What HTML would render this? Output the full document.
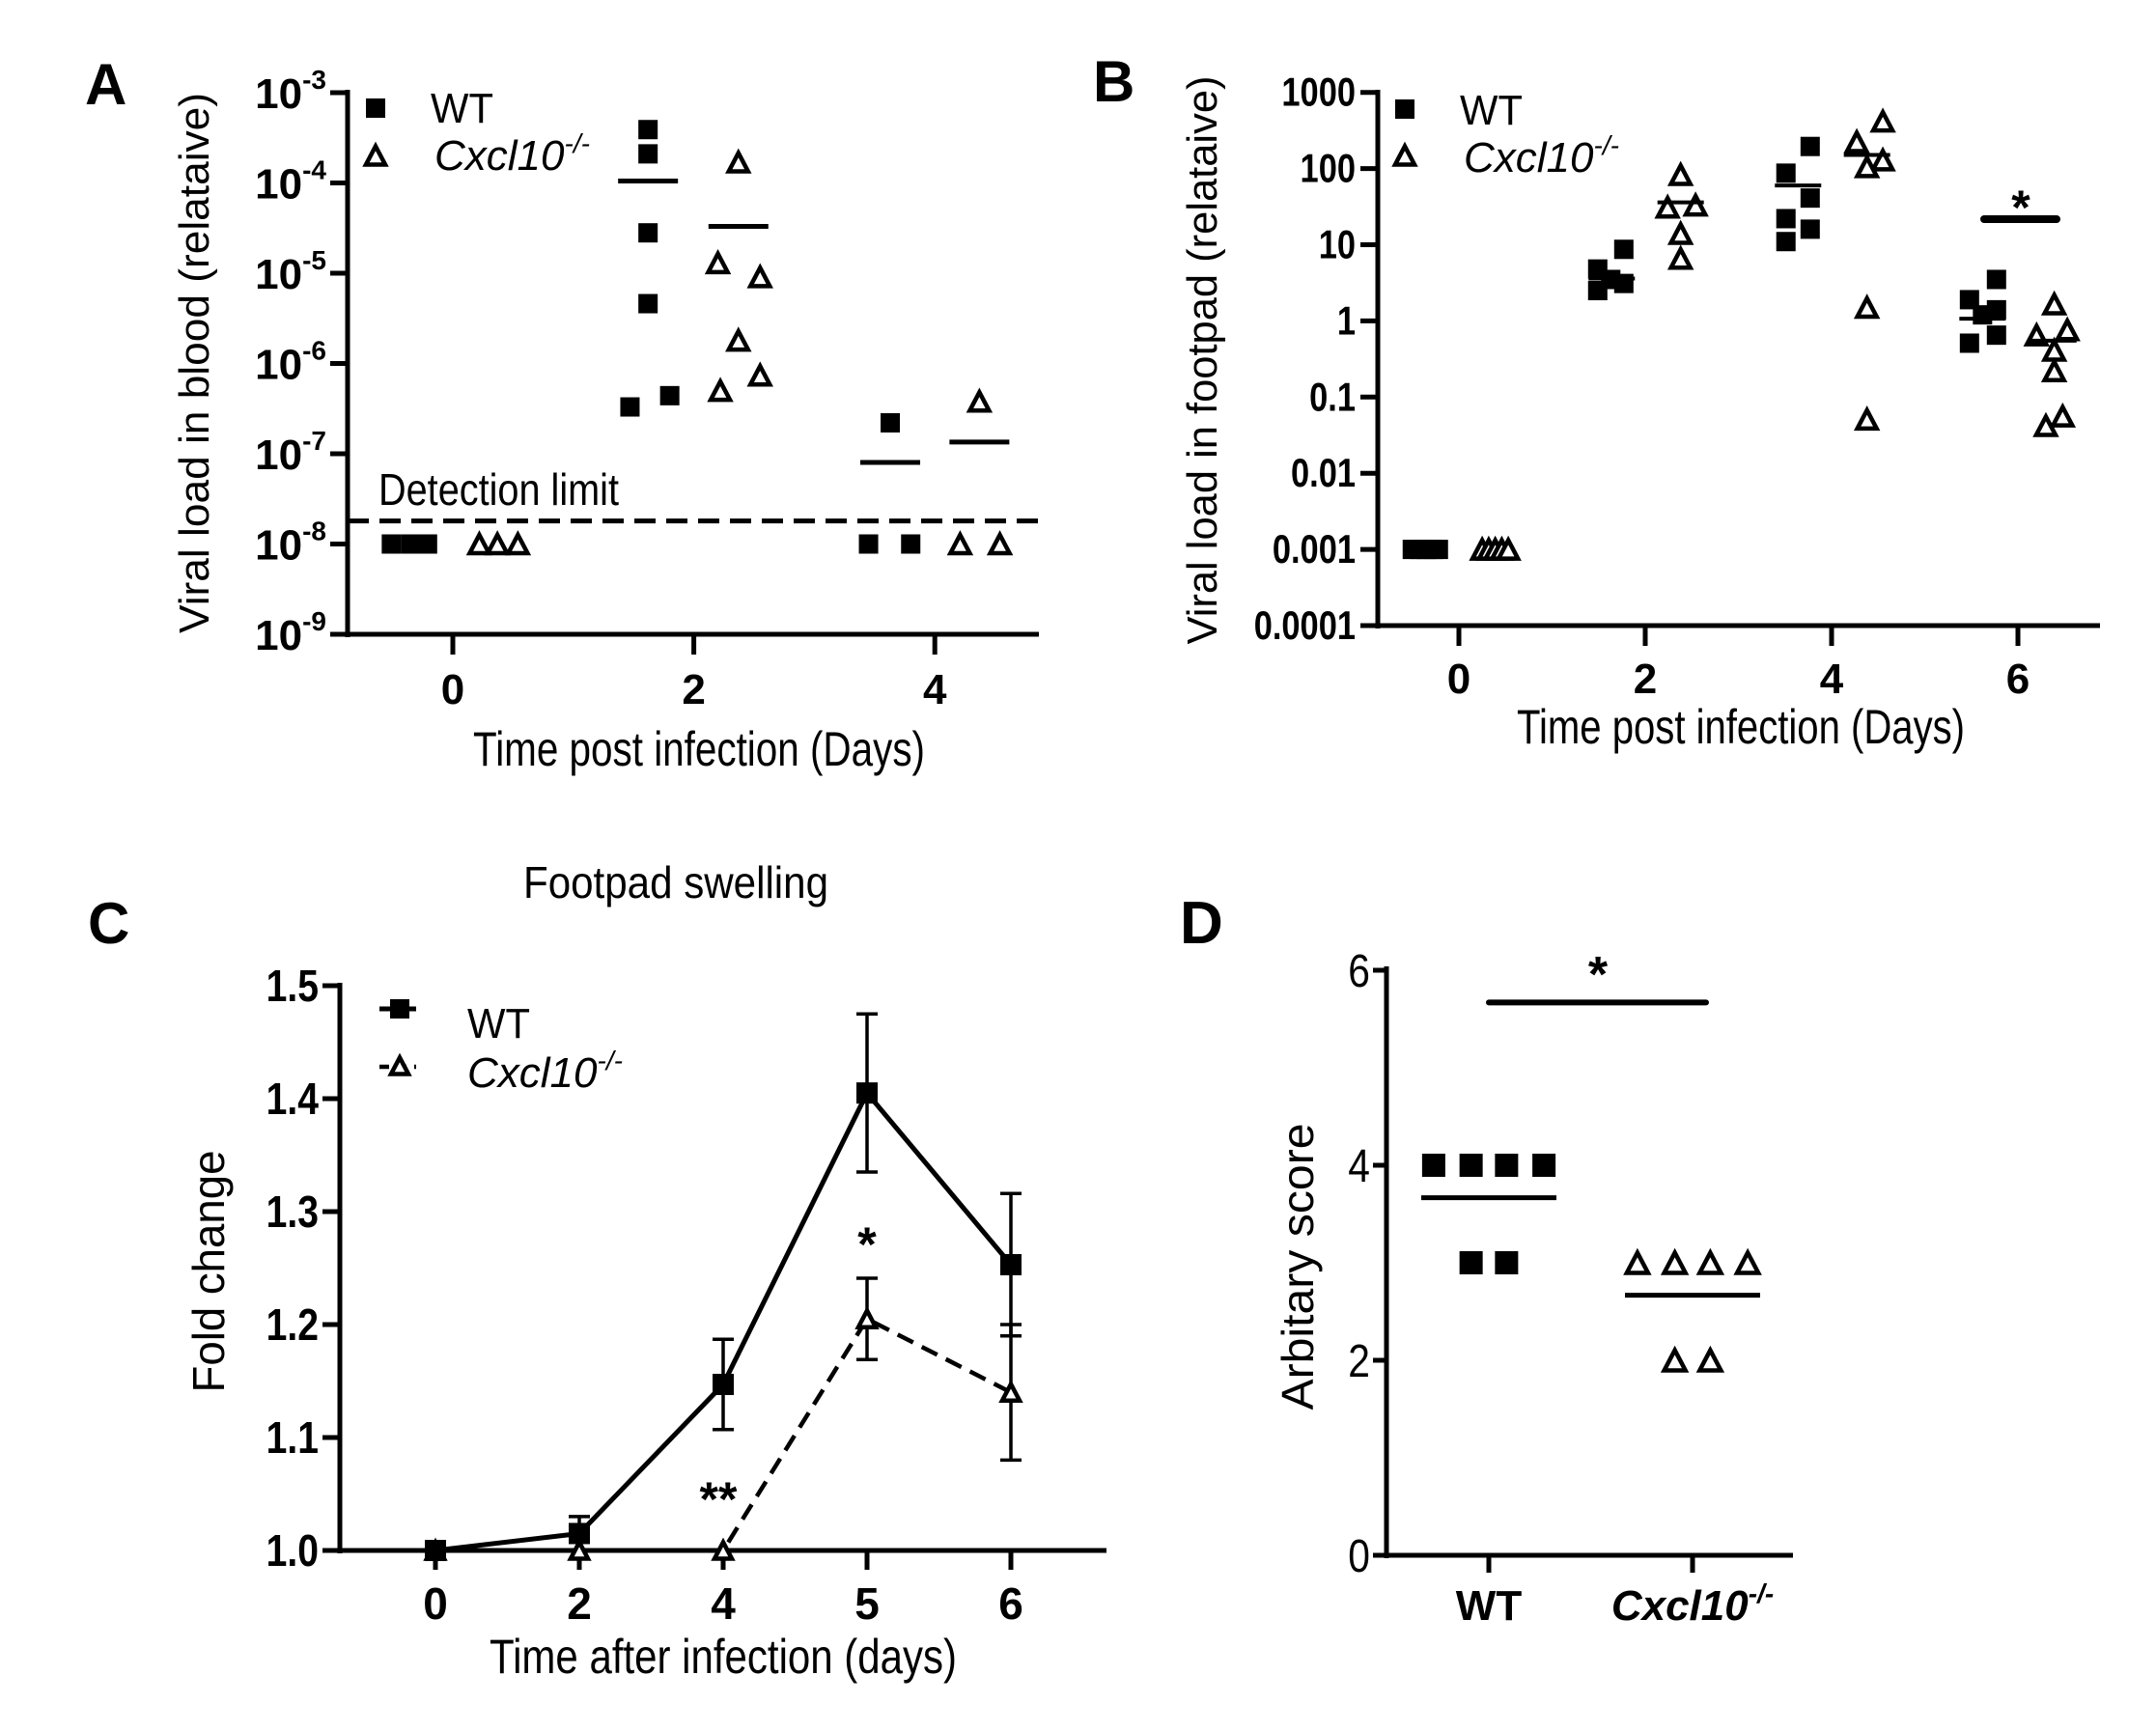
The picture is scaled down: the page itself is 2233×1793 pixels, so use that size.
<!DOCTYPE html>
<html><head><meta charset="utf-8"><style>
html,body{margin:0;padding:0;background:#fff}
svg{display:block}
text{font-family:"Liberation Sans",sans-serif;fill:#000}
</style></head><body>
<svg id="fig" xmlns="http://www.w3.org/2000/svg" width="2233" height="1793" viewBox="0 0 2233 1793">
<rect x="0" y="0" width="2233" height="1793" fill="#fff"/>
<!-- Panel letters -->
<text x="88" y="108" font-size="60" font-weight="bold">A</text>
<text x="1132" y="105" font-size="60" font-weight="bold">B</text>
<text x="91" y="977" font-size="60" font-weight="bold">C</text>
<text x="1222" y="977" font-size="62" font-weight="bold">D</text>
<!-- Titles -->
<text transform="translate(216,376) rotate(-90)" text-anchor="middle" font-size="44" textLength="560" lengthAdjust="spacingAndGlyphs">Viral load in blood (relataive)</text>
<text x="724" y="793" text-anchor="middle" font-size="50" textLength="468" lengthAdjust="spacingAndGlyphs">Time post infection (Days)</text>
<text x="392" y="523" font-size="46" textLength="249" lengthAdjust="spacingAndGlyphs">Detection limit</text>
<text transform="translate(1260,373) rotate(-90)" text-anchor="middle" font-size="44" textLength="589" lengthAdjust="spacingAndGlyphs">Viral load in footpad (relataive)</text>
<text x="1803" y="770" text-anchor="middle" font-size="50" textLength="464" lengthAdjust="spacingAndGlyphs">Time post infection (Days)</text>
<text x="700" y="930" text-anchor="middle" font-size="46" textLength="316" lengthAdjust="spacingAndGlyphs">Footpad swelling</text>
<text transform="translate(232,1317) rotate(-90)" text-anchor="middle" font-size="46" textLength="251" lengthAdjust="spacingAndGlyphs">Fold change</text>
<text x="749" y="1733" text-anchor="middle" font-size="50" textLength="484" lengthAdjust="spacingAndGlyphs">Time after infection (days)</text>
<text transform="translate(1360,1312) rotate(-90)" text-anchor="middle" font-size="46" textLength="297" lengthAdjust="spacingAndGlyphs">Arbitary score</text>
<!-- Legends -->
<text x="446" y="127" font-size="44" textLength="65" lengthAdjust="spacingAndGlyphs">WT</text>
<text x="450" y="176" font-size="44" font-style="italic">Cxcl10<tspan font-size="28" dy="-18">-/-</tspan></text>
<text x="1512" y="129" font-size="44" textLength="65" lengthAdjust="spacingAndGlyphs">WT</text>
<text x="1516" y="178" font-size="44" font-style="italic">Cxcl10<tspan font-size="28" dy="-18">-/-</tspan></text>
<text x="484" y="1075" font-size="44" textLength="65" lengthAdjust="spacingAndGlyphs">WT</text>
<text x="484" y="1126" font-size="44" font-style="italic">Cxcl10<tspan font-size="28" dy="-18">-/-</tspan></text>
</svg>
<script>
// ---------- Panel A data (blood viral load) ----------
const aTicksExp = [-3,-4,-5,-6,-7,-8,-9];
const aXTicks = [0,2,4];
const aWtX = [-0.51,-0.35,-0.21, 1.62,1.62,1.62,1.62,1.47,1.80, 3.63,3.45,3.80];
const aWtY = [1e-8,1e-8,1e-8, 3.9e-4,2.1e-4,2.8e-5,4.6e-6,3.3e-7,4.4e-7, 2.2e-7,1e-8,1e-8];
const aKoX = [0.22,0.37,0.54, 2.37,2.20,2.55,2.37,2.55,2.22, 4.37,4.21,4.54];
const aKoY = [1e-8,1e-8,1e-8, 1.7e-4,1.3e-5,9.1e-6,1.8e-6,7.4e-7,5e-7, 3.8e-7,1e-8,1e-8];
const aMeanX = [1.62,2.37,3.63,4.37];
const aMeanY = [1.05e-4,3.3e-5,8e-8,1.35e-7];
const aDetection = 1.8e-8;
// ---------- Panel B data (footpad viral load) ----------
const bTicks = [1000,100,10,1,0.1,0.01,0.001,0.0001];
const bTickLabels = ["1000","100","10","1","0.1","0.01","0.001","0.0001"];
const bXTicks = [0,2,4,6];
const bWtX = [-0.50,-0.42,-0.35,-0.28,-0.22, 1.49,1.49,1.77,1.77,1.63, 3.51,3.77,3.77,3.51,3.77,3.51, 5.48,5.77,5.77,5.48,5.77,5.62];
const bWtY = [0.001,0.001,0.001,0.001,0.001, 4.8,2.5,8.7,3.1,3.5, 87,195,41,22,16,11, 1.9,3.5,1.4,0.51,0.65,1.2];
const bKoX = [0.25,0.32,0.39,0.46,0.53, 2.38,2.24,2.54,2.38,2.38, 4.27,4.55,4.55,4.38,4.38,4.38, 6.39,6.20,6.53,6.39,6.39,6.30,6.48];
const bKoY = [0.001,0.001,0.001,0.001,0.001, 83,31,33,14,6.6, 224,417,129,105,1.5,0.051, 1.66,0.65,0.76,0.41,0.22,0.042,0.056];
const bMeanX = [1.64,2.38,3.64,4.38,5.62,6.38];
const bMeanY = [3.6,36,60,151,1.07,0.55];
// ---------- Panel C data (footpad swelling) ----------
const cCats = ["0","2","4","5","6"];
const cYTicks = [1.0,1.1,1.2,1.3,1.4,1.5];
const cWt = [1.0,1.015,1.147,1.405,1.253];
const cWtErr = [0.0,0.015,0.04,0.07,0.063];
const cKo = [1.0,1.0,1.0,1.205,1.14];
const cKoErr = [0.0,0.0,0.0,0.036,0.06];
// ---------- Panel D data (arbitrary score) ----------
const dCats = ["WT","Cxcl10"];
const dYTicks = [0,2,4,6];
const dWtX = [-0.28,-0.09,0.09,0.28,-0.09,0.09];
const dWtY = [4,4,4,4,3,3];
const dKoX = [-0.28,-0.09,0.09,0.28,-0.09,0.09];
const dKoY = [3,3,3,3,2,2];
const dMeans = [3.667,2.667];

const NS="http://www.w3.org/2000/svg";
const svg=document.getElementById('fig');
function mk(tag,attrs){const e=document.createElementNS(NS,tag);for(const k in attrs)e.setAttribute(k,attrs[k]);svg.appendChild(e);return e;}
function line(x1,y1,x2,y2,w,dash){const a={x1:x1,y1:y1,x2:x2,y2:y2,stroke:'#000','stroke-width':w};if(dash)a['stroke-dasharray']=dash;return mk('line',a);}
function sq(cx,cy,s){return mk('rect',{x:cx-s/2,y:cy-s/2,width:s,height:s,fill:'#000'});}
function tri(cx,cy,s){const h=s*0.95;return mk('polygon',{points:(cx)+','+(cy-h/2)+' '+(cx+s/2)+','+(cy+h/2)+' '+(cx-s/2)+','+(cy+h/2),fill:'#fff',stroke:'#000','stroke-width':4.5,'stroke-linejoin':'miter'});}
function txt(x,y,s,size,anchor,weight){const t=mk('text',{x:x,y:y,'font-size':size,'text-anchor':anchor||'middle','font-weight':weight||'normal'});t.textContent=s;return t;}

// ===== Panel A =====
const A={x0:360,y0:657,dec:93.5,ox:469,pd:124.8,right:1076};
const ay=v=>A.y0-(Math.log10(v)+9)*A.dec;
const ax=d=>A.ox+d*A.pd;
let e;
e=line(A.x0,96-3,A.x0,A.y0+3,5);  
e=line(A.x0-2,A.y0,A.right,A.y0,5);  
aTicksExp.forEach(p=>{const y=ay(Math.pow(10,p));
 e=line(A.x0-18,y,A.x0,y,5);  
 const t=mk('text',{x:338,y:y+16,'font-size':44,'font-weight':'bold','text-anchor':'end'});
 
 
 t.innerHTML='10<tspan font-size="28" dy="-20">'+p+'</tspan>';});
aXTicks.forEach(d=>{e=line(ax(d),A.y0,ax(d),A.y0+21,5);  
 e=txt(ax(d),729,String(d),44,'middle','bold');  });
e=line(A.x0,ay(aDetection),1080,ay(aDetection),5,'22 11');  
aWtX.forEach((d,i)=>{e=sq(ax(d),ay(aWtY[i]),20);  });
aKoX.forEach((d,i)=>{e=tri(ax(d),ay(aKoY[i]),20);  });
aMeanX.forEach((d,i)=>{e=line(ax(d)-31,ay(aMeanY[i]),ax(d)+31,ay(aMeanY[i]),5);  });
e=sq(389,112,20);  
e=tri(389,161,20);  

// ===== Panel B =====
const B={x0:1427,top:96,dec:78.9,y0:648,ox:1511,pd:96.5,right:2175};
const by=v=>B.y0-(Math.log10(v)+4)*B.dec;
const bx=d=>B.ox+d*B.pd;
e=line(B.x0,B.top-3,B.x0,B.y0+3,5);  
e=line(B.x0-2,B.y0,B.right,B.y0,5);  
bTicks.forEach((v,i)=>{const y=by(v);
 e=line(B.x0-18,y,B.x0,y,5);  
 e=mk('g',{transform:'translate(1404,'+(y+14)+') scale(0.82,1)'});
 
 
 const t=document.createElementNS(NS,'text');t.setAttribute('font-size',42);t.setAttribute('font-weight','bold');t.setAttribute('text-anchor','end');t.textContent=bTickLabels[i];e.appendChild(t);});
bXTicks.forEach(d=>{e=line(bx(d),B.y0,bx(d),B.y0+21,5);  
 e=txt(bx(d),718,String(d),44,'middle','bold');  });
bWtX.forEach((d,i)=>{e=sq(bx(d),by(bWtY[i]),20);  });
bKoX.forEach((d,i)=>{e=tri(bx(d),by(bKoY[i]),20);  });
bMeanX.forEach((d,i)=>{e=line(bx(d)-24,by(bMeanY[i]),bx(d)+24,by(bMeanY[i]),4);  });
e=mk('line',{x1:2055,y1:227,x2:2130,y2:227,stroke:'#000','stroke-width':8,'stroke-linecap':'round'});  
e=txt(2093,232,'*',50,'middle','bold');  
e=sq(1455,113,20);  
e=tri(1455,161,20);  

// ===== Panel C =====
const C={x0:352,y0:1606,per:1170,cx0:451,step:149,right:1146};
const cy=v=>C.y0-(v-1.0)*C.per;
const cx=i=>C.cx0+i*C.step;
e=line(C.x0,1018,C.x0,C.y0+3,5);  
e=line(C.x0-2,C.y0,C.right,C.y0,5);  
cYTicks.forEach(v=>{const y=cy(v);
 e=line(C.x0-18,y,C.x0,y,5);  
 e=mk('g',{transform:'translate(330,'+(y+16)+') scale(0.85,1)'});
 
 
 const t=document.createElementNS(NS,'text');t.setAttribute('font-size',46);t.setAttribute('font-weight','bold');t.setAttribute('text-anchor','end');t.textContent=v.toFixed(1);e.appendChild(t);});
cCats.forEach((c,i)=>{e=line(cx(i),C.y0,cx(i),C.y0+20,5);  
 e=txt(cx(i),1677,c,46,'middle','bold');  });
let dW='',dK='';
cWt.forEach((v,i)=>{dW+=(i?'L':'M')+cx(i)+','+cy(v);});
cKo.forEach((v,i)=>{dK+=(i?'L':'M')+cx(i)+','+cy(v);});
e=mk('path',{d:dK,fill:'none',stroke:'#000','stroke-width':4.5,'stroke-dasharray':'18 10'});  
e=mk('path',{d:dW,fill:'none',stroke:'#000','stroke-width':5});  
function ebar(i,v,err,nm){if(err<=0)return;const x=cx(i);const t=cy(v+err),b=cy(v-err);
 e=line(x,t,x,b,3.5);  
 e=line(x-11,t,x+11,t,3.5);  
 e=line(x-11,b,x+11,b,3.5);  }
cWt.forEach((v,i)=>ebar(i,v,cWtErr[i],'c-wt-error-bar'));
cKo.forEach((v,i)=>ebar(i,v,cKoErr[i],'c-cxcl10-error-bar'));
cKo.forEach((v,i)=>{e=tri(cx(i),cy(v),18);  });
cWt.forEach((v,i)=>{e=sq(cx(i),cy(v),22);  });
e=txt(cx(3),1306,'*',50,'middle','bold');  
e=txt(cx(2)-5,1570,'**',50,'middle','bold');  
e=line(393,1045,431,1045,5);  
e=sq(414,1045,20);  
e=line(393,1105,431,1105,4.5,'10 8');  
e=tri(414,1104,18);  

// ===== Panel D =====
const D={x0:1436,y0:1611,per:101,c0:1542,step:211,right:1857,bw:204};
const dy=v=>D.y0-v*D.per;
const dx=(i,o)=>D.c0+i*D.step+o*D.bw;
e=line(D.x0,1001,D.x0,D.y0+3,5);  
e=line(D.x0-2,D.y0,D.right,D.y0,5);  
dYTicks.forEach(v=>{const y=dy(v);
 e=line(D.x0-14,y,D.x0,y,5);  
 e=mk('g',{transform:'translate(1419,'+(y+17)+') scale(0.85,1)'});
 
 
 const t=document.createElementNS(NS,'text');t.setAttribute('font-size',48);t.setAttribute('text-anchor','end');t.textContent=String(v);e.appendChild(t);});
dCats.forEach((c,i)=>{const x=D.c0+i*D.step;
 e=line(x,D.y0,x,D.y0+18,5);  
 e=mk('text',{x:x,y:1678,'font-size':44,'font-weight':'bold','text-anchor':'middle','font-style':i?'italic':'normal'});
 
 
 e.innerHTML=c+(i?'<tspan font-size="28" dy="-18">-/-</tspan>':'');});
dWtX.forEach((o,i)=>{e=sq(dx(0,o),dy(dWtY[i]),24);  });
dKoX.forEach((o,i)=>{e=tri(dx(1,o),dy(dKoY[i]),22);  });
dMeans.forEach((m,i)=>{const x=D.c0+i*D.step;e=line(x-70,dy(m),x+70,dy(m),5);  });
e=mk('line',{x1:1542,y1:dy(5.67),x2:1767,y2:dy(5.67),stroke:'#000','stroke-width':6,'stroke-linecap':'round'});  
e=txt(1655,1027,'*',52,'middle','bold');  
</script>
</body></html>
